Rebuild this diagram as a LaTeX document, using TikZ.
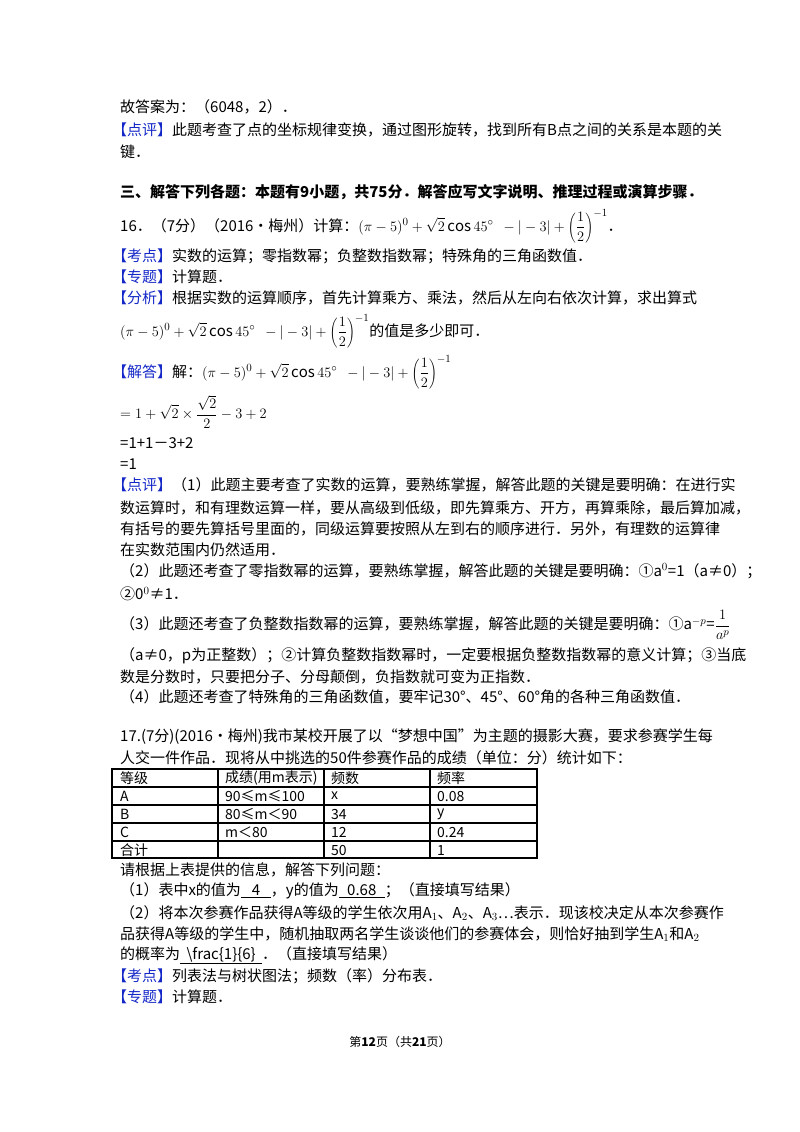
\documentclass[tikz,border=0pt]{standalone}
\usepackage{fontspec}
\setmainfont{Noto Sans CJK SC}
\begin{document}
\begin{tikzpicture}[x=1pt,y=-1pt,
  ln/.style={anchor=west,inner sep=0pt,font=\fontsize{15}{17}\selectfont},
  cell/.style={anchor=west,inner sep=0pt,font=\fontsize{14}{16}\selectfont},
  grid/.style={line width=1.3pt}]
\definecolor{tagblue}{RGB}{20,40,200}
\newcommand{\tg}[1]{\textcolor{tagblue}{【#1】}}
\newcommand{\fml}{$\displaystyle(\pi-5)^0+\sqrt{2}\cos45^\circ\ \ -|-3|+\left(\frac{1}{2}\right)^{-1}$}
\fill[white] (0,0) rectangle (800,1132);
\node[ln] (l1) at (120,107) {故答案为：（6048，2）．};
\node[ln] (l2) at (112,130) {\tg{点评}此题考查了点的坐标规律变换，通过图形旋转，找到所有B点之间的关系是本题的关};
\node[ln] (l3) at (120,152) {键．};
\node[ln,font=\fontsize{15}{17}\selectfont\bfseries] (l4) at (120,192) {三、解答下列各题：本题有9小题，共75分．解答应写文字说明、推理过程或演算步骤．};
\node[ln] (l5) at (120,226) {16．（7分）（2016•梅州）计算：\fml．};
\node[ln] (l6) at (112,256) {\tg{考点}实数的运算；零指数幂；负整数指数幂；特殊角的三角函数值．};
\node[ln] (l7) at (112,277) {\tg{专题}计算题．};
\node[ln] (l8) at (112,298) {\tg{分析}根据实数的运算顺序，首先计算乘方、乘法，然后从左向右依次计算，求出算式};
\node[ln] (l9) at (120,331) {\fml 的值是多少即可．};
\node[ln] (l10) at (112,372) {\tg{解答}解：\fml};
\node[ln] (l11) at (120,412) {$\displaystyle=1+\sqrt{2}\times\frac{\sqrt{2}}{2}-3+2$};
\node[ln] (l12) at (120,443) {=1+1－3+2};
\node[ln] (l13) at (120,464) {=1};
\node[ln] (l14) at (112,485) {\tg{点评}（1）此题主要考查了实数的运算，要熟练掌握，解答此题的关键是要明确：在进行实};
\node[ln] (l15) at (120,508) {数运算时，和有理数运算一样，要从高级到低级，即先算乘方、开方，再算乘除，最后算加减，};
\node[ln] (l16) at (120,529) {有括号的要先算括号里面的，同级运算要按照从左到右的顺序进行．另外，有理数的运算律};
\node[ln] (l17) at (120,550) {在实数范围内仍然适用．};
\node[ln] (l18) at (120,571) {（2）此题还考查了零指数幂的运算，要熟练掌握，解答此题的关键是要明确：①a$^0$=1（a≠0）；};
\node[ln] (l19) at (120,594) {②0$^0$≠1．};
\node[ln] (l20) at (120,625) {（3）此题还考查了负整数指数幂的运算，要熟练掌握，解答此题的关键是要明确：①a$^{-p}$=$\displaystyle\frac{1}{a^p}$};
\node[ln] (l21) at (120,656) {（a≠0，p为正整数）；②计算负整数指数幂时，一定要根据负整数指数幂的意义计算；③当底};
\node[ln] (l22) at (120,677) {数是分数时，只要把分子、分母颠倒，负指数就可变为正指数．};
\node[ln] (l23) at (120,697) {（4）此题还考查了特殊角的三角函数值，要牢记30°、45°、60°角的各种三角函数值．};
\node[ln] (l24) at (120,737) {17.(7分)(2016•梅州)我市某校开展了以“梦想中国”为主题的摄影大赛，要求参赛学生每};
\node[ln] (l25) at (120,758) {人交一件作品．现将从中挑选的50件参赛作品的成绩（单位：分）统计如下：};
% table
\draw[grid] (112,769) rectangle (537,858);
\foreach \yy in {787,805,823,841} \draw[grid] (112,\yy) -- (537,\yy);
\foreach \xx in {218,324,430} \draw[grid] (\xx,769) -- (\xx,858);
\node[cell] (c11) at (120,778) {等级};
\node[cell] (c12) at (225,778) {成绩(用m表示)};
\node[cell] (c13) at (331,778) {频数};
\node[cell] (c14) at (437,778) {频率};
\node[cell] (c21) at (120,796) {A};
\node[cell] (c22) at (225,796) {90≤m≤100};
\node[cell] (c23) at (331,796) {x};
\node[cell] (c24) at (437,796) {0.08};
\node[cell] (c31) at (120,814) {B};
\node[cell] (c32) at (225,814) {80≤m＜90};
\node[cell] (c33) at (331,814) {34};
\node[cell] (c34) at (437,814) {y};
\node[cell] (c41) at (120,832) {C};
\node[cell] (c42) at (225,832) {m＜80};
\node[cell] (c43) at (331,832) {12};
\node[cell] (c44) at (437,832) {0.24};
\node[cell] (c51) at (120,850) {合计};
\node[cell] (c53) at (331,850) {50};
\node[cell] (c54) at (437,850) {1};
\node[ln] (l26) at (120,870) {请根据上表提供的信息，解答下列问题：};
\node[ln] (l27) at (120,891) {（1）表中x的值为\underline{\makebox[30pt]{4}}，y的值为\underline{\makebox[46pt]{0.68}}；（直接填写结果）};
\node[ln] (l28) at (120,913) {（2）将本次参赛作品获得A等级的学生依次用A$_1$、A$_2$、A$_3$…表示．现该校决定从本次参赛作};
\node[ln] (l29) at (120,934) {品获得A等级的学生中，随机抽取两名学生谈谈他们的参赛体会，则恰好抽到学生A$_1$和A$_2$};
\node[ln] (l30) at (120,955) {的概率为\underline{\makebox[82pt]{\textbackslash frac\{1\}\{6\}}}．（直接填写结果）};
\node[ln] (l31) at (112,976) {\tg{考点}列表法与树状图法；频数（率）分布表．};
\node[ln] (l32) at (112,997) {\tg{专题}计算题．};
\node[anchor=center,inner sep=0pt,font=\fontsize{12}{14}\selectfont] (ft) at (400,1042) {第\textbf{12}页（共\textbf{21}页）};
\end{tikzpicture}
\end{document}
